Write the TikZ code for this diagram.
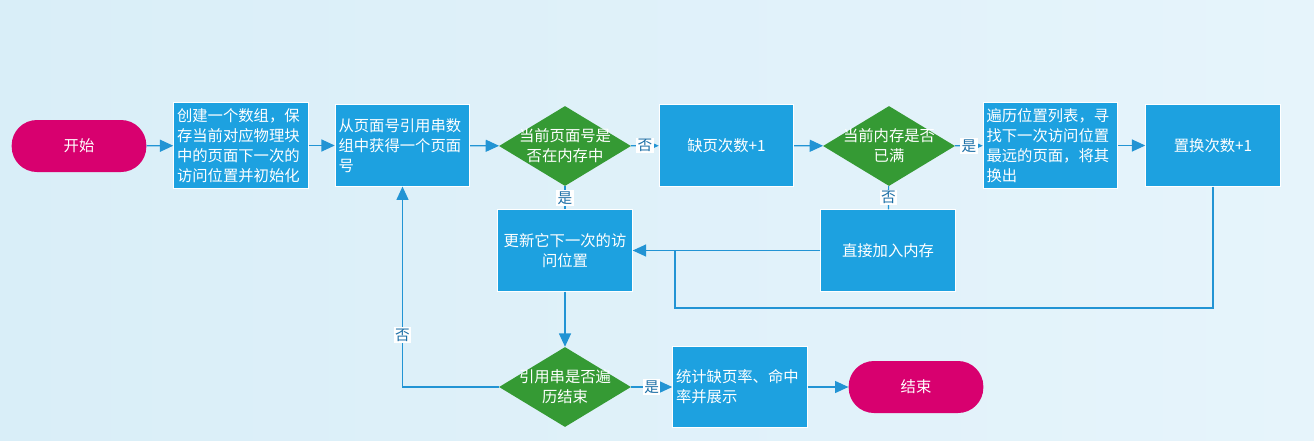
\documentclass[tikz,border=0pt]{standalone}
\usepackage{fontspec}
\usepackage{xcolor}
\usetikzlibrary{arrows.meta,shapes.geometric}
\newfontfamily\cjk{Noto Sans CJK SC}
\definecolor{BgLeft}{HTML}{D9EEF8}
\definecolor{BgRight}{HTML}{E6F4FB}
\definecolor{StepBlue}{HTML}{1DA1E0}
\definecolor{TestGreen}{HTML}{359A34}
\definecolor{EndPink}{HTML}{D8006F}
\definecolor{LinkBlue}{HTML}{2294D4}
\definecolor{TagBlue}{HTML}{1C6FA6}

\begin{document}
\begin{tikzpicture}[x=0.75pt,y=-0.75pt,
  stepbox/.style={rectangle,draw=white,line width=0.6pt,fill=StepBlue,text=white,
    font=\cjk\fontsize{11.5}{15}\selectfont,inner xsep=2.5pt,text width=96pt,
    minimum height=61pt},
  endcap/.style={rectangle,rounded corners=19pt,fill=EndPink,text=white,
    font=\cjk\fontsize{11.5}{15}\selectfont,minimum width=101pt,minimum height=39pt},
  decision/.style={diamond,fill=TestGreen,inner sep=0pt,minimum width=99pt,
    minimum height=60pt},
  dtext/.style={text=white,font=\cjk\fontsize{11.5}{15}\selectfont,align=center},
  link/.style={draw=LinkBlue,line width=0.9pt},
  tip/.style={-{Triangle[length=10pt,width=9pt]}},
  tag/.style={fill=white,text=TagBlue,font=\cjk\fontsize{11}{13}\selectfont,
    inner sep=1pt}]
\path[use as bounding box,left color=BgLeft,right color=BgRight] (0,0) rectangle (1314,440);

% top row
\node[endcap] (start) at (79,146) {开始};
\node[stepbox,align=left,minimum height=65pt] (init) at (241,145.5)
  {创建一个数组，保\\存当前对应物理块\\中的页面下一次的\\访问位置并初始化};
\node[stepbox,align=left] (fetch) at (402.5,145.5)
  {从页面号引用串数\\组中获得一个页面\\号};
\node[decision,label={[dtext]center:{当前页面号是\\否在内存中}}] (inmem) at (565,146) {};
\node[stepbox,align=center] (miss) at (726.5,145.5) {缺页次数+1};
\node[decision,label={[dtext]center:{当前内存是否\\已满}}] (full) at (889,146) {};
\node[stepbox,align=left,minimum height=65pt] (evict) at (1050.5,145.5)
  {遍历位置列表，寻\\找下一次访问位置\\最远的页面，将其\\换出};
\node[stepbox,align=center] (repl) at (1213,145.5) {置换次数+1};

% middle row
\node[stepbox,align=center] (update) at (565,250.5) {更新它下一次的访\\问位置};
\node[stepbox,align=center] (direct) at (888,250.5) {直接加入内存};

% bottom row
\node[decision,label={[dtext]center:{引用串是否遍\\历结束}}] (done) at (565,387) {};
\node[stepbox,align=left] (stats) at (740,387) {统计缺页率、命中\\率并展示};
\node[endcap] (stop) at (916,387) {结束};

\coordinate (loopcorner) at (675,308);

% connectors
\draw[link,tip] (start) -- (init);
\draw[link,tip] (init) -- (fetch);
\draw[link,tip] (fetch) -- (inmem);
\draw[link,tip] (inmem) -- (miss) node[tag,midway] {否};
\draw[link,tip] (miss) -- (full);
\draw[link,tip] (full) -- (evict) node[tag,midway] {是};
\draw[link,tip] (evict) -- (repl);
\draw[link] (inmem) -- (update) node[tag,midway] {是};
\draw[link] (full) -- (direct) node[tag,midway] {否};
\draw[link,tip] (direct) -- (update);
\draw[link] (repl) |- (loopcorner) |- (update.east);
\draw[link,tip] (update) -- (done);
\draw[link,tip] (done.west) -| (fetch.south) node[tag,pos=0.63] {否};
\draw[link,tip] (done) -- (stats) node[tag,midway] {是};
\draw[link,tip] (stats) -- (stop);
\end{tikzpicture}
\end{document}
